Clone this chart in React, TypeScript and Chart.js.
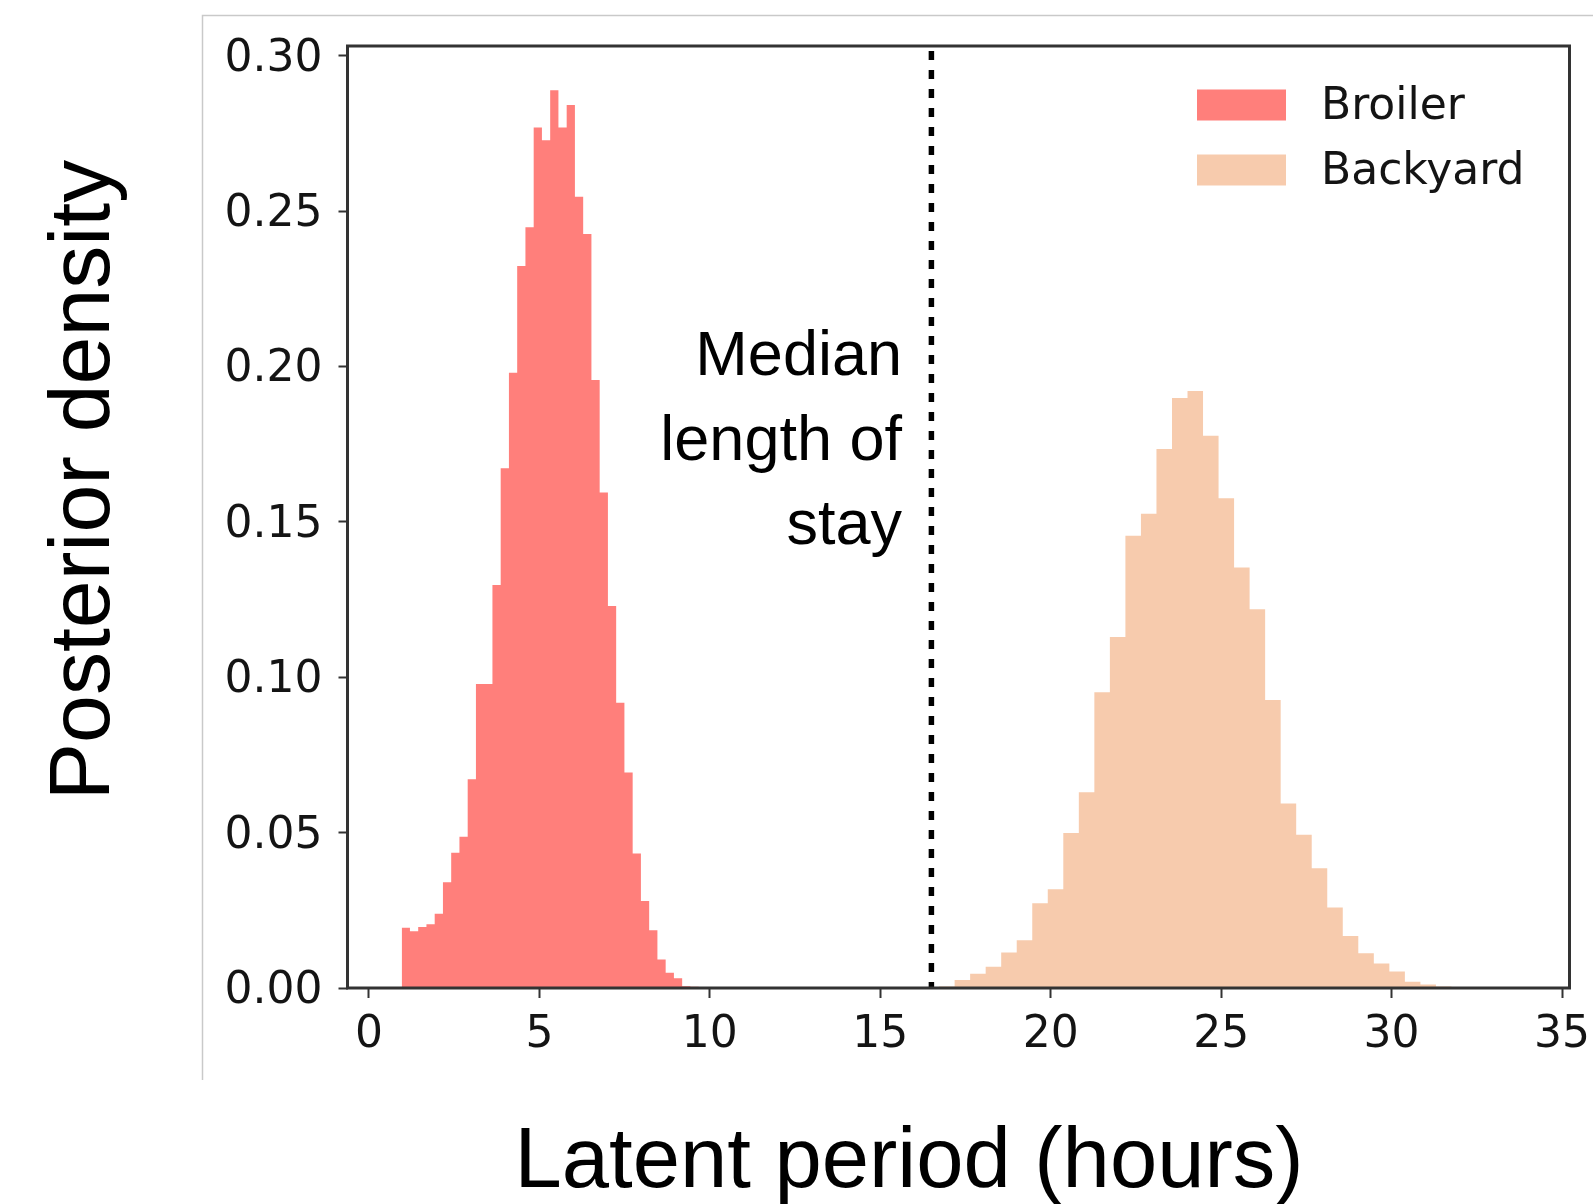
import React, { useEffect, useRef } from "react";
import { Chart, registerables } from "chart.js";

Chart.register(...registerables);

// ---------- data ----------
const seriesLabels = ["Broiler", "Backyard"];
const seriesColors = ["#FF7F7B", "#F7CBAD"];

const broilerBinStart = 0.96;
const broilerBinWidth = 0.242;
const broilerDensity = [
  0.0194, 0.0183, 0.0196, 0.0205, 0.0239, 0.034, 0.0435, 0.0487, 0.0672, 0.0978,
  0.0978, 0.1297, 0.1672, 0.198, 0.2323, 0.2448, 0.2769, 0.2728, 0.2889, 0.2769,
  0.2841, 0.2546, 0.2426, 0.1956, 0.1594, 0.1229, 0.0918, 0.0693, 0.0433, 0.028,
  0.0186, 0.0092, 0.0049, 0.0031, 0.0006, 0.0004, 0.0003, 0.0002, 0.0001, 0.0001,
];

const backyardBinStart = 16.27;
const backyardBinWidth = 0.4555;
const backyardDensity = [
  0.0002, 0.0005, 0.0026, 0.0046, 0.0068, 0.0114, 0.0154, 0.0273, 0.0318, 0.0499,
  0.063, 0.0952, 0.1129, 0.1455, 0.1526, 0.1734, 0.1898, 0.1921, 0.1777, 0.1576,
  0.1353, 0.1219, 0.0927, 0.0594, 0.0493, 0.0385, 0.0259, 0.0167, 0.0112, 0.0079,
  0.0053, 0.002, 0.0011, 0.0005, 0.0002,
];

const medianStay = 16.5;
const xTicks = [0, 5, 10, 15, 20, 25, 30, 35];
const yTicks = [0, 0.05, 0.1, 0.15, 0.2, 0.25, 0.3];
const xMin = -0.63;
const xMax = 35.22;
const yMin = 0;
const yMax = 0.3031;

const xTitle = "Latent period (hours)";
const yTitle = "Posterior density";
const annotationLines = ["Median", "length of", "stay"];

// build histogram step outlines from the bins
function histPoints(start: number, width: number, vals: number[]) {
  const pts = vals.map((v, i) => ({ x: start + i * width, y: v }));
  pts.push({ x: start + vals.length * width, y: 0 });
  return pts;
}

const W = 1593;
const H = 1204;
const TICK_TEXT = "#141414";

const decorPlugin = {
  id: "decor",
  beforeDraw(chart: any) {
    const ctx = chart.ctx;
    ctx.save();
    ctx.fillStyle = "#ffffff";
    ctx.fillRect(0, 0, W, H);
    // outer light frame
    ctx.strokeStyle = "#c9c9c9";
    ctx.lineWidth = 1.5;
    ctx.beginPath();
    ctx.moveTo(W, 15.5);
    ctx.lineTo(202.5, 15.5);
    ctx.lineTo(202.5, 1080);
    ctx.stroke();
    ctx.restore();
  },
  afterDraw(chart: any) {
    const ctx = chart.ctx;
    const a = chart.chartArea;
    ctx.save();
    // spines
    ctx.strokeStyle = "#333333";
    ctx.lineWidth = 3;
    ctx.strokeRect(a.left, a.top, a.right - a.left, a.bottom - a.top);

    // legend
    const lx = 1197;
    const rows = [105, 170];
    ctx.font = "44px 'DejaVu Sans'";
    ctx.textBaseline = "middle";
    ctx.textAlign = "left";
    seriesLabels.forEach((lab, i) => {
      ctx.fillStyle = seriesColors[i];
      ctx.fillRect(lx, rows[i] - 15.5, 89, 31);
      ctx.fillStyle = TICK_TEXT;
      ctx.fillText(lab, 1321, rows[i] + 3);
    });

    // annotation
    ctx.fillStyle = "#000000";
    ctx.font = "63px 'Liberation Sans'";
    ctx.textAlign = "right";
    ctx.textBaseline = "alphabetic";
    const base = [375, 459.5, 544];
    annotationLines.forEach((t, i) => ctx.fillText(t, 902, base[i]));

    // axis titles
    ctx.font = "85px 'Liberation Sans'";
    ctx.textAlign = "center";
    ctx.fillText(xTitle, 909, 1187);
    ctx.save();
    ctx.translate(108.5, 480);
    ctx.rotate(-Math.PI / 2);
    ctx.font = "86px 'Liberation Sans'";
    ctx.fillText(yTitle, 0, 0);
    ctx.restore();
    ctx.restore();
  },
};

export default function App() {
  const ref = useRef<HTMLCanvasElement | null>(null);

  useEffect(() => {
    if (!ref.current) return;
    const chart = new Chart(ref.current, {
      type: "line",
      data: {
        datasets: [
          {
            label: seriesLabels[0],
            data: histPoints(broilerBinStart, broilerBinWidth, broilerDensity),
            stepped: true,
            fill: "origin",
            backgroundColor: seriesColors[0],
            borderColor: "transparent",
            borderWidth: 0,
            pointRadius: 0,
          },
          {
            label: seriesLabels[1],
            data: histPoints(backyardBinStart, backyardBinWidth, backyardDensity),
            stepped: true,
            fill: "origin",
            backgroundColor: seriesColors[1],
            borderColor: "transparent",
            borderWidth: 0,
            pointRadius: 0,
          },
          {
            label: "Median length of stay",
            data: [
              { x: medianStay, y: yMax },
              { x: medianStay, y: yMin },
            ],
            fill: false,
            borderColor: "#000000",
            borderWidth: 5.5,
            borderDash: [9, 10],
            borderDashOffset: -5,
            borderCapStyle: "butt",
            pointRadius: 0,
          },
        ],
      } as any,
      plugins: [decorPlugin],
      options: {
        responsive: false,
        maintainAspectRatio: false,
        animation: false,
        devicePixelRatio: 1,
        layout: { padding: { top: 46, right: 23.5, left: 0, bottom: 0 } },
        plugins: {
          legend: { display: false },
          tooltip: { enabled: false },
        },
        scales: {
          x: {
            type: "linear",
            min: xMin,
            max: xMax,
            afterBuildTicks: (s: any) => {
              s.ticks = xTicks.map((v) => ({ value: v }));
            },
            afterFit: (s: any) => {
              s.height = H - 988;
              s.paddingLeft = 0;
              s.paddingRight = 0;
            },
            ticks: {
              font: { family: "DejaVu Sans", size: 44 },
              color: TICK_TEXT,
              padding: 11,
              maxRotation: 0,
              autoSkip: false,
              callback: (v: any) => String(v),
            },
            grid: {
              display: true,
              drawOnChartArea: false,
              drawTicks: true,
              tickLength: 10,
              tickColor: "#333333",
              tickWidth: 2,
            },
            border: { display: false },
          },
          y: {
            type: "linear",
            min: yMin,
            max: yMax,
            afterBuildTicks: (s: any) => {
              s.ticks = yTicks.map((v) => ({ value: v }));
            },
            afterFit: (s: any) => {
              s.width = 347.5;
              s.paddingTop = 0;
              s.paddingBottom = 0;
            },
            ticks: {
              font: { family: "DejaVu Sans", size: 44, lineHeight: "7px" },
              color: TICK_TEXT,
              padding: 16,
              autoSkip: false,
              // leading empty line nudges the label a few px down so the digits centre on the tick
              callback: (v: any) => ["", Number(v).toFixed(2)],
            },
            grid: {
              display: true,
              drawOnChartArea: false,
              drawTicks: true,
              tickLength: 9,
              tickColor: "#333333",
              tickWidth: 2,
            },
            border: { display: false },
          },
        },
      } as any,
    });
    return () => chart.destroy();
  }, []);

  return (
    <div style={{ position: "absolute", left: 0, top: 0, width: W, height: H, background: "#fff" }}>
      <canvas ref={ref} width={W} height={H} style={{ display: "block", width: W, height: H }} />
    </div>
  );
}
